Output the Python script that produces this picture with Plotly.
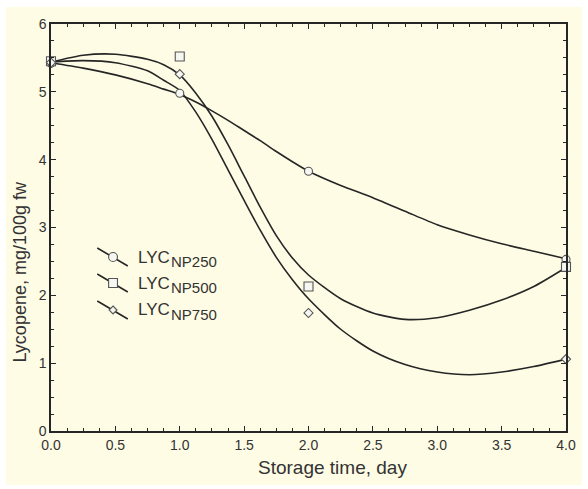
import plotly.graph_objects as go

# ---------------- data ----------------
days_obs = [0, 1, 2, 4]
lyc_np250 = [5.42, 4.98, 3.83, 2.53]
lyc_np500 = [5.45, 5.52, 2.13, 2.42]
lyc_np750 = [5.43, 5.26, 1.74, 1.06]

fit_days = [0, 0.25, 0.5, 0.75, 0.875, 1.0, 1.125, 1.25, 1.375, 1.5, 1.625,
            1.75, 1.875, 2.0, 2.25, 2.5, 2.75, 3.0, 3.25, 3.5, 3.75, 4.0]
fit_np250 = [5.43, 5.35, 5.25, 5.12, 5.04, 4.96, 4.85, 4.72, 4.58, 4.43, 4.28,
             4.12, 3.97, 3.83, 3.62, 3.44, 3.24, 3.04, 2.89, 2.76, 2.65, 2.54]
fit_np500 = [5.44, 5.54, 5.555, 5.48, 5.40, 5.25, 4.98, 4.64, 4.22, 3.76, 3.30,
             2.88, 2.55, 2.30, 1.95, 1.74, 1.645, 1.67, 1.78, 1.93, 2.13, 2.41]
fit_np750 = [5.44, 5.46, 5.43, 5.31, 5.17, 5.02, 4.70, 4.30, 3.85, 3.40, 2.96,
             2.56, 2.23, 1.95, 1.50, 1.18, 0.98, 0.87, 0.83, 0.87, 0.95, 1.06]

series_names = ["NP250", "NP500", "NP750"]
x_ticks = [0, 0.5, 1.0, 1.5, 2.0, 2.5, 3.0, 3.5, 4.0]
y_ticks = [0, 1, 2, 3, 4, 5, 6]

# ---------------- style ----------------
W, H = 588, 489
L, R, T, B = 51, 14, 24, 58
PW, PH = W - L - R, H - T - B
CREAM = "#FEFCE5"
LINE = "#262626"
TXT = "#333333"
FONT = "Liberation Sans, Arial, sans-serif"


def px(xp):
    return (xp - L) / PW


def py(yp):
    return (H - B - yp) / PH


fig = go.Figure()

for ys in (fit_np250, fit_np500, fit_np750):
    fig.add_trace(go.Scatter(x=fit_days, y=ys, mode="lines",
                             line=dict(color=LINE, width=1.6, shape="spline", smoothing=0.7),
                             showlegend=False, hoverinfo="skip"))

marker_styles = [("circle", 8), ("square", 9), ("diamond", 7)]
for ys, (sym, sz) in zip((lyc_np250, lyc_np500, lyc_np750), marker_styles):
    fig.add_trace(go.Scatter(x=days_obs, y=ys, mode="markers",
                             marker=dict(symbol=sym, size=sz, color="#F7F7F2",
                                         line=dict(color="#555555", width=1.1)),
                             showlegend=False, cliponaxis=False))

shapes = [dict(type="rect", xref="paper", yref="paper",
               x0=px(5), x1=px(590), y0=py(485), y1=py(7),
               fillcolor=CREAM, line=dict(width=0), layer="below")]

annotations = []
# manual legend (diagonal key lines like the original)
row_y = [257, 283, 310]
for i, name in enumerate(series_names):
    yc = row_y[i]
    shapes.append(dict(type="line", xref="paper", yref="paper",
                       x0=px(98), y0=py(yc - 9), x1=px(129), y1=py(yc + 9),
                       line=dict(color=LINE, width=1.6)))
    cx = 114
    if i == 0:
        shapes.append(dict(type="circle", xref="paper", yref="paper",
                           x0=px(cx - 4.5), x1=px(cx + 4.5), y0=py(yc + 4.5), y1=py(yc - 4.5),
                           fillcolor="#F7F7F2", line=dict(color="#555555", width=1.1)))
    elif i == 1:
        shapes.append(dict(type="rect", xref="paper", yref="paper",
                           x0=px(cx - 4.5), x1=px(cx + 4.5), y0=py(yc + 4.5), y1=py(yc - 4.5),
                           fillcolor="#F7F7F2", line=dict(color="#555555", width=1.1)))
    else:
        shapes.append(dict(type="path", xref="paper", yref="paper",
                           path=f"M {px(cx)} {py(yc-4)} L {px(cx+4)} {py(yc)} L {px(cx)} {py(yc+4)} L {px(cx-4)} {py(yc)} Z",
                           fillcolor="#F7F7F2", line=dict(color="#555555", width=1.1)))
    annotations.append(dict(text="LYC", xref="paper", yref="paper",
                            x=px(137), y=py(yc), xanchor="left", yanchor="middle",
                            showarrow=False, font=dict(family=FONT, size=17, color=TXT)))
    annotations.append(dict(text=name, xref="paper", yref="paper",
                            x=px(171), y=py(yc + 4), xanchor="left", yanchor="middle",
                            showarrow=False, font=dict(family=FONT, size=15, color=TXT)))

annotations.append(dict(text="Storage time, day", xref="paper", yref="paper",
                        x=px(337), y=py(467), xanchor="center", yanchor="middle",
                        showarrow=False, font=dict(family=FONT, size=19, color=TXT)))
annotations.append(dict(text="Lycopene, mg/100g fw", xref="paper", yref="paper",
                        x=px(20), y=py(272), xanchor="center", yanchor="middle",
                        textangle=-90, showarrow=False,
                        font=dict(family=FONT, size=18, color=TXT)))

axis_common = dict(showline=True, linecolor=LINE, linewidth=1.5, mirror="allticks",
                   ticks="inside", ticklen=5, tickwidth=1, tickcolor=LINE,
                   showgrid=False, zeroline=False,
                   tickfont=dict(family=FONT, size=14, color=TXT))

fig.update_layout(
    width=W, height=H,
    margin=dict(l=L, r=R, t=T, b=B),
    paper_bgcolor="white", plot_bgcolor="rgba(0,0,0,0)",
    xaxis=dict(range=[0, 4], tickvals=x_ticks, ticktext=[f"{v:.1f}" for v in x_ticks],
               minor=dict(dtick=0.125, ticks="inside", ticklen=3, tickcolor=LINE, showgrid=False),
               **axis_common),
    yaxis=dict(range=[0, 6], tickvals=y_ticks, ticktext=[str(v) for v in y_ticks],
               minor=dict(dtick=0.25, ticks="inside", ticklen=3, tickcolor=LINE, showgrid=False),
               **axis_common),
    shapes=shapes, annotations=annotations, showlegend=False,
)

fig.write_html("out.html", config={"displayModeBar": False},
               post_script="document.body.style.margin='0';document.body.style.padding='0';")
